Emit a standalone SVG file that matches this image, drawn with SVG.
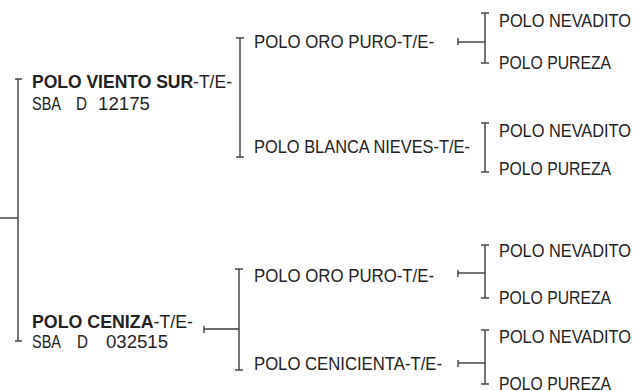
<svg xmlns="http://www.w3.org/2000/svg" width="635" height="391" viewBox="0 0 635 391">
<style>
text{font-family:"Liberation Sans",Arial,sans-serif;font-size:18px;fill:#222}
.b{font-weight:bold}
.c line{stroke:#3c3c3c;stroke-width:1.4}
</style>
<rect width="635" height="391" fill="#fff"/>
<g class="c" id="connectors">
<line x1="0" y1="218" x2="18" y2="218"/>
<line x1="18" y1="79" x2="18" y2="341"/>
<line x1="15" y1="79" x2="22" y2="79"/>
<line x1="15" y1="341" x2="22" y2="341"/>
<line x1="240" y1="38" x2="240" y2="157"/>
<line x1="236" y1="38" x2="244" y2="38"/>
<line x1="236" y1="157" x2="244" y2="157"/>
<line x1="458" y1="42" x2="485" y2="42"/>
<line x1="458" y1="38" x2="458" y2="45"/>
<line x1="485" y1="13" x2="485" y2="63"/>
<line x1="481" y1="13" x2="489" y2="13"/>
<line x1="481" y1="63" x2="489" y2="63"/>
<line x1="485" y1="123" x2="485" y2="172"/>
<line x1="481" y1="123" x2="489" y2="123"/>
<line x1="481" y1="172" x2="489" y2="172"/>
<line x1="204" y1="329" x2="239" y2="329"/>
<line x1="204" y1="326" x2="204" y2="333"/>
<line x1="239" y1="269" x2="239" y2="370"/>
<line x1="235" y1="269" x2="243" y2="269"/>
<line x1="235" y1="370" x2="243" y2="370"/>
<line x1="458" y1="273" x2="485" y2="273"/>
<line x1="458" y1="270" x2="458" y2="277"/>
<line x1="485" y1="245" x2="485" y2="298"/>
<line x1="481" y1="245" x2="489" y2="245"/>
<line x1="481" y1="298" x2="489" y2="298"/>
<line x1="458" y1="363" x2="485" y2="363"/>
<line x1="458" y1="360" x2="458" y2="367"/>
<line x1="485" y1="330" x2="485" y2="384"/>
<line x1="481" y1="330" x2="489" y2="330"/>
<line x1="481" y1="384" x2="489" y2="384"/>
</g>
<g id="n_viento">
<text x="32" y="88" textLength="200" lengthAdjust="spacingAndGlyphs"><tspan class="b">POLO VIENTO SUR</tspan>-T/E-</text>
<text y="110"><tspan x="32" textLength="29" lengthAdjust="spacingAndGlyphs">SBA</tspan><tspan x="76" textLength="11" lengthAdjust="spacingAndGlyphs">D</tspan><tspan x="98" textLength="52" lengthAdjust="spacingAndGlyphs">12175</tspan></text>
</g>
<g id="n_oro1"><text x="254" y="48" textLength="180" lengthAdjust="spacingAndGlyphs">POLO ORO PURO-T/E-</text></g>
<g id="n_blanca"><text x="254" y="153" textLength="216" lengthAdjust="spacingAndGlyphs">POLO BLANCA NIEVES-T/E-</text></g>
<g id="n_nev1"><text x="499" y="27" textLength="132" lengthAdjust="spacingAndGlyphs">POLO NEVADITO</text></g>
<g id="n_pur1"><text x="499" y="69" textLength="112" lengthAdjust="spacingAndGlyphs">POLO PUREZA</text></g>
<g id="n_nev2"><text x="499" y="137" textLength="132" lengthAdjust="spacingAndGlyphs">POLO NEVADITO</text></g>
<g id="n_pur2"><text x="499" y="175" textLength="112" lengthAdjust="spacingAndGlyphs">POLO PUREZA</text></g>
<g id="n_ceniza">
<text x="32" y="328" textLength="161" lengthAdjust="spacingAndGlyphs"><tspan class="b">POLO CENIZA</tspan>-T/E-</text>
<text y="348"><tspan x="32" textLength="29" lengthAdjust="spacingAndGlyphs">SBA</tspan><tspan x="77" textLength="11" lengthAdjust="spacingAndGlyphs">D</tspan><tspan x="106" textLength="62" lengthAdjust="spacingAndGlyphs">032515</tspan></text>
</g>
<g id="n_oro2"><text x="254" y="282" textLength="180" lengthAdjust="spacingAndGlyphs">POLO ORO PURO-T/E-</text></g>
<g id="n_cenicienta"><text x="254" y="370" textLength="188" lengthAdjust="spacingAndGlyphs">POLO CENICIENTA-T/E-</text></g>
<g id="n_nev3"><text x="499" y="257" textLength="132" lengthAdjust="spacingAndGlyphs">POLO NEVADITO</text></g>
<g id="n_pur3"><text x="499" y="304" textLength="112" lengthAdjust="spacingAndGlyphs">POLO PUREZA</text></g>
<g id="n_nev4"><text x="499" y="343" textLength="132" lengthAdjust="spacingAndGlyphs">POLO NEVADITO</text></g>
<g id="n_pur4"><text x="499" y="390" textLength="112" lengthAdjust="spacingAndGlyphs">POLO PUREZA</text></g>
</svg>
